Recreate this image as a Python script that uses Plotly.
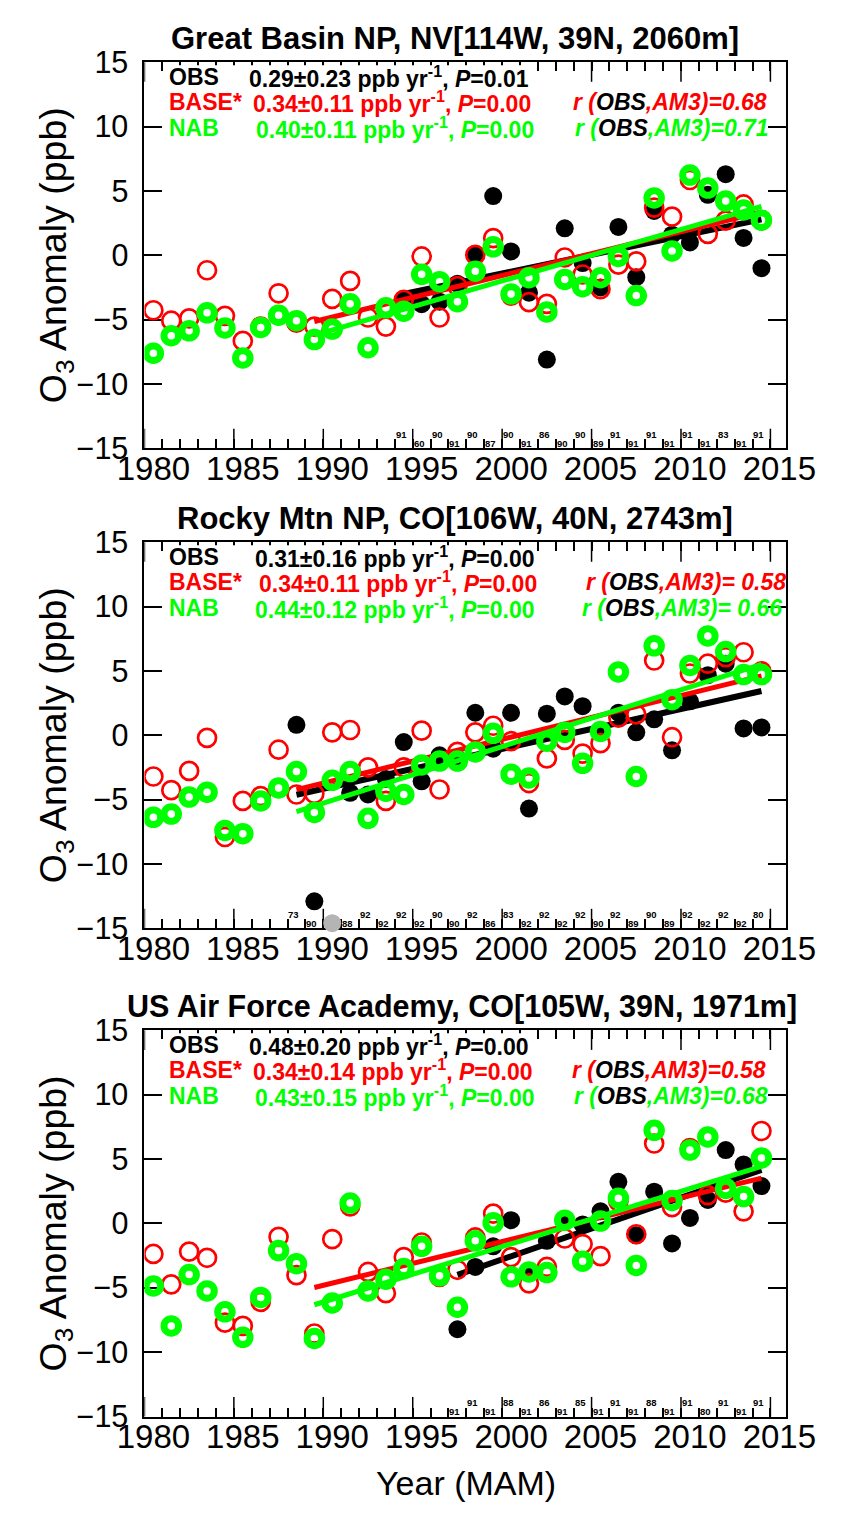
import numpy as np
import plotly.graph_objects as go

# ---------------------------------------------------------------- data
years = list(range(1980, 2015))
label_years = [1980, 1985, 1990, 1995, 2000, 2005, 2010, 2015]
y_ticks = [-15, -10, -5, 0, 5, 10, 15]

# Great Basin NP, NV
gb_title = "Great Basin NP, NV[114W, 39N, 2060m]"
gb_obs_years = list(range(1994, 2015))
gb_obs = [-3.4, -3.8, -3.6, -2.2, 0.0, 4.6, 0.3, -2.9, -8.1, 2.1, -0.6,
          -2.5, 2.2, -1.7, 3.45, 1.6, 1.0, 4.7, 6.3, 1.35, -1.0]
gb_base = [-4.27, -5.08, -4.9, -1.16, -4.7, -6.65, -5.54, -2.95, -5.23, -5.54,
           -3.38, -1.99, -4.83, -5.54, -3.46, -0.09, -4.83, -2.4, 0.03, 1.34,
           -3.13, -3.64, -3.77, -0.17, -1.49, -2.63, -0.73, -0.47, 3.7, 3.0,
           5.85, 1.67, 2.69, 3.95, 2.73]
gb_nab = [-7.61, -6.25, -5.87, -4.47, -5.64, -7.97, -5.61, -4.65, -5.08, -6.55,
          -5.73, -3.77, -7.18, -4.08, -4.34, -1.48, -2.05, -3.6, -1.23, 0.66,
          -3.0, -1.74, -4.4, -1.87, -2.44, -1.74, -0.09, -3.13, 4.46, 0.34,
          6.23, 5.22, 4.21, 3.52, 2.73]
gb_counts = [91, 60, 90, 91, 90, 87, 90, 91, 86, 90, 90, 89, 91, 91, 91, 91,
             91, 91, 83, 91, 91]
gb_trend = [0.29, 0.34, 0.40]          # OBS, BASE*, NAB (ppb/yr)
gb_trend_err = [0.23, 0.11, 0.11]
gb_p = [0.01, 0.00, 0.00]
gb_r = [0.68, 0.71]                    # BASE*, NAB vs OBS
gb_fit_start = [1994, 1989, 1989]

# Rocky Mtn NP, CO
rm_title = "Rocky Mtn NP, CO[106W, 40N, 2743m]"
rm_obs_years = list(range(1988, 2015))
rm_obs = [0.81, -12.9, None, -4.47, -4.6, -3.4, -0.53, -3.58, -1.55, -1.8,
          1.75, -1.04, 1.75, -5.69, 1.68, 3.02, 2.26, 0.3, 1.75, 0.23, 1.24,
          -1.17, 2.64, 4.67, 5.56, 0.53, 0.61]
rm_offscale_years = [1990]
rm_offscale_values = [-14.6]
rm_base = [-3.2, -4.26, -2.77, -0.2, -7.9, -5.1, -4.72, -1.12, -4.6, -4.54,
           0.23, 0.41, -2.49, -5.1, -2.49, 0.36, -4.21, -1.29, 0.23, 0.74,
           -0.46, -3.71, -1.8, -0.36, -1.42, -0.61, 1.37, 1.62, 5.81, -0.15,
           4.8, 5.56, 6.07, 6.45, 4.97]
rm_nab = [-6.37, -6.12, -4.8, -4.42, -7.39, -7.64, -5.1, -4.09, -2.82, -5.99,
          -3.5, -2.82, -6.45, -4.34, -4.6, -2.31, -2.0, -2.0, -1.29, 0.15,
          -3.02, -3.32, -0.46, 0.23, -2.18, 0.3, 4.92, -3.2, 6.95, 2.77,
          5.43, 7.72, 6.5, 4.72, 4.72]
rm_counts = [73, 90, None, 88, 92, 92, 92, 92, 90, 90, 92, 86, 83, 92, 92, 92,
             92, 90, 92, 89, 90, 89, 92, 92, 92, 92, 80]
rm_trend = [0.31, 0.34, 0.44]
rm_trend_err = [0.16, 0.11, 0.12]
rm_p = [0.00, 0.00, 0.00]
rm_r = [0.58, 0.66]
rm_fit_start = [1988, 1988, 1988]

# US Air Force Academy, CO
af_title = "US Air Force Academy, CO[105W, 39N, 1971m]"
af_obs_years = list(range(1997, 2015))
af_obs = [-8.22, -3.38, -1.78, 0.25, -3.77, -1.35, 0.25, -0.08, 0.94, 3.23,
          -0.92, 2.47, -1.55, 0.43, 1.83, 5.7, 4.58, 2.9]
af_base = [-2.37, -4.73, -2.19, -2.67, -7.71, -7.96, -6.1, -1.04, -4.02, -8.55,
           -1.22, 1.32, -3.77, -5.42, -2.62, -1.48, -4.15, -3.6, -1.09, 0.76,
           -2.62, -4.66, -3.38, -1.17, -1.6, -2.54, 1.7, -0.84, 6.21, 1.27,
           5.85, 2.2, 2.39, 0.94, 7.18]
af_nab = [-4.86, -7.96, -3.97, -5.24, -6.87, -8.85, -5.75, -2.11, -3.13, -8.93,
          -6.18, 1.58, -5.24, -4.33, -3.51, -1.78, -4.07, -6.51, -1.35, 0.05,
          -4.15, -3.77, -3.82, 0.25, -2.93, 0.18, 1.96, -3.26, 7.23, 1.78,
          5.7, 6.72, 2.72, 2.09, 5.09]
af_counts = [91, 91, 91, 88, 91, 86, 91, 85, 91, 91, 91, 88, 91, 91, 80, 91,
             91, 91]
af_trend = [0.48, 0.34, 0.43]
af_trend_err = [0.20, 0.14, 0.15]
af_p = [0.00, 0.00, 0.00]
af_r = [0.58, 0.68]
af_fit_start = [1997, 1989, 1989]

series_names = ["OBS", "BASE*", "NAB"]

# ---------------------------------------------------------------- style
W, H = 848, 1522
FONT = "Liberation Sans, Arial, sans-serif"
RED, GREEN, BLACK = "#ff0000", "#00ff00", "#000000"
SERIES_COLORS = [BLACK, RED, GREEN]
X_LEFT, X_RIGHT = 125, 814
PANEL_TOPS = [46.25, 537.2, 1036.5]
PANEL_H = 395.0
TITLE_X = [458, 458, 466]
TITLE_SIZE = [31, 31, 30.5]
VALUE_X = [[235, 239, 243], [242, 246, 242], [235, 239, 242]]
R_X = [[583, 585], [597, 592], [582, 584]]
R_SEP = ["=", "= ", "="]
MAJOR_TICK_LEN = 20


def fx(p):
    return p / W


def fy(p):
    return 1 - p / H


panels = [
    dict(title=gb_title, obs_years=gb_obs_years, obs=gb_obs, base=gb_base, nab=gb_nab,
         counts=gb_counts, trend=gb_trend, err=gb_trend_err, p=gb_p, r=gb_r,
         fit_start=gb_fit_start, off_years=[], off_vals=[]),
    dict(title=rm_title, obs_years=rm_obs_years, obs=rm_obs, base=rm_base, nab=rm_nab,
         counts=rm_counts, trend=rm_trend, err=rm_trend_err, p=rm_p, r=rm_r,
         fit_start=rm_fit_start, off_years=rm_offscale_years, off_vals=rm_offscale_values),
    dict(title=af_title, obs_years=af_obs_years, obs=af_obs, base=af_base, nab=af_nab,
         counts=af_counts, trend=af_trend, err=af_trend_err, p=af_p, r=af_r,
         fit_start=af_fit_start, off_years=[], off_vals=[]),
]


def trend_line(xs, vs, slope, start, end=2014):
    """Line with the stated slope through the mean of the fitted window."""
    xs = np.array(xs, dtype=float)
    vs = np.array([np.nan if v is None else v for v in vs], dtype=float)
    m = (xs >= start) & (xs <= end) & ~np.isnan(vs)
    xm, vm = xs[m].mean(), vs[m].mean()
    lx = np.array([start, end], dtype=float)
    return lx, vm + slope * (lx - xm)


def fmt_tick(v):
    return str(v).replace("-", "\u2212")


fig = go.Figure()
annotations = []
shapes = []

for i, pnl in enumerate(panels):
    k = "" if i == 0 else str(i + 1)
    xa, ya = "x" + k, "y" + k
    top = PANEL_TOPS[i]
    bottom = top + PANEL_H

    # OBS
    fig.add_trace(go.Scatter(x=pnl["obs_years"], y=pnl["obs"], mode="markers",
                             marker=dict(symbol="circle", size=18, color=BLACK),
                             xaxis=xa, yaxis=ya, showlegend=False))
    if pnl["off_years"]:
        fig.add_trace(go.Scatter(x=pnl["off_years"], y=pnl["off_vals"], mode="markers",
                                 marker=dict(symbol="circle", size=18, color="#b4b4b4"),
                                 cliponaxis=False, xaxis=xa, yaxis=ya, showlegend=False))
    lx, ly = trend_line(pnl["obs_years"], pnl["obs"], pnl["trend"][0], pnl["fit_start"][0])
    fig.add_trace(go.Scatter(x=lx, y=ly, mode="lines", line=dict(color=BLACK, width=6),
                             xaxis=xa, yaxis=ya, showlegend=False))
    # BASE*
    fig.add_trace(go.Scatter(x=years, y=pnl["base"], mode="markers",
                             marker=dict(symbol="circle-open", size=18, color=RED,
                                         line=dict(width=2.7)),
                             xaxis=xa, yaxis=ya, showlegend=False))
    lx, ly = trend_line(years, pnl["base"], pnl["trend"][1], pnl["fit_start"][1])
    fig.add_trace(go.Scatter(x=lx, y=ly, mode="lines", line=dict(color=RED, width=5),
                             xaxis=xa, yaxis=ya, showlegend=False))
    # NAB
    fig.add_trace(go.Scatter(x=years, y=pnl["nab"], mode="markers",
                             marker=dict(symbol="circle-open", size=14.5, color=GREEN,
                                         line=dict(width=7)),
                             xaxis=xa, yaxis=ya, showlegend=False))
    lx, ly = trend_line(years, pnl["nab"], pnl["trend"][2], pnl["fit_start"][2])
    fig.add_trace(go.Scatter(x=lx, y=ly, mode="lines", line=dict(color=GREEN, width=5),
                             xaxis=xa, yaxis=ya, showlegend=False))

    # axes: labels sit at the year centres, tick marks at the half-year bin edges
    dom_y = [fy(bottom), fy(top)]
    fig.update_layout(**{
        ("xaxis" + k): dict(
            domain=[fx(X_LEFT), fx(X_RIGHT)], anchor=ya,
            range=[1979.5, 2015.39],
            tickmode="array",
            tickvals=label_years,
            ticktext=[str(yr) for yr in label_years],
            ticks="inside", ticklen=0, tickwidth=1.5, tickcolor=BLACK,
            minor=dict(ticks="inside", ticklen=9, tickwidth=1.5, tickcolor=BLACK,
                       tickmode="linear", tick0=1979.5, dtick=1, showgrid=False),
            showline=True, linewidth=2, linecolor=BLACK, mirror="allticks",
            showgrid=False, zeroline=False, layer="below traces",
            tickfont=dict(family=FONT, size=33, color=BLACK),
            ticklabelstandoff=-10,
        ),
        ("yaxis" + k): dict(
            domain=dom_y, anchor=xa, range=[-15, 15],
            tickmode="array", tickvals=y_ticks, ticktext=[fmt_tick(v) for v in y_ticks],
            ticks="inside", ticklen=18, tickwidth=1.5, tickcolor=BLACK,
            showline=True, linewidth=2, linecolor=BLACK, mirror="allticks",
            showgrid=False, zeroline=False, layer="below traces",
            tickfont=dict(family=FONT, size=30.5, color=BLACK),
            ticklabelstandoff=8,
        ),
    })

    # long tick marks every five years (bottom and mirrored on top)
    for yr in label_years:
        for y0, y1 in ((bottom, bottom - MAJOR_TICK_LEN), (top, top + MAJOR_TICK_LEN)):
            shapes.append(dict(type="line", xref=xa, yref="paper", layer="below",
                               x0=yr - 0.5, x1=yr - 0.5, y0=fy(y0), y1=fy(y1),
                               line=dict(color=BLACK, width=1.5)))

    # panel title
    annotations.append(dict(x=fx(TITLE_X[i]), y=fy(top - 24), xref="paper", yref="paper",
                            text="<b>%s</b>" % pnl["title"], showarrow=False,
                            font=dict(family=FONT, size=TITLE_SIZE[i], color=BLACK),
                            xanchor="center", yanchor="middle"))
    # y-axis title
    annotations.append(dict(x=fx(30), y=fy(top + PANEL_H / 2), xref="paper", yref="paper",
                            text="O<sub>3</sub> Anomaly (ppb)", textangle=-90, showarrow=False,
                            font=dict(family=FONT, size=37.5, color=BLACK),
                            xanchor="center", yanchor="middle"))

    # white box behind the OBS statistics row
    shapes.append(dict(type="rect", xref="paper", yref="paper", layer="above",
                       x0=fx(147), x1=fx(537), y0=fy(top + 27), y1=fy(top + 3),
                       fillcolor="white", line=dict(width=0)))

    # statistics rows
    row_y = [top + 15, top + 41, top + 67]
    for s in range(3):
        col = SERIES_COLORS[s]
        annotations.append(dict(x=fx(149), y=fy(row_y[s]), xref="paper", yref="paper",
                                text="<b>%s</b>" % series_names[s], showarrow=False,
                                font=dict(family=FONT, size=23, color=col),
                                xanchor="left", yanchor="middle"))
        txt = "<b>%.2f±%.2f ppb yr<sup>-1</sup>, <i>P</i>=%.2f</b>" % (
            pnl["trend"][s], pnl["err"][s], pnl["p"][s])
        annotations.append(dict(x=fx(VALUE_X[i][s]), y=fy(row_y[s]), xref="paper",
                                yref="paper", text=txt, showarrow=False,
                                font=dict(family=FONT, size=23, color=col),
                                xanchor="left", yanchor="middle"))
        if s > 0:
            rtxt = ("<b><i>r (<span style='color:black'>OBS</span>,AM3)%s%.2f</i></b>"
                    % (R_SEP[i], pnl["r"][s - 1]))
            annotations.append(dict(x=fx(R_X[i][s - 1]), y=fy(row_y[s]), xref="paper",
                                    yref="paper", text=rtxt, showarrow=False,
                                    font=dict(family=FONT, size=23, color=col),
                                    xanchor="left", yanchor="middle"))

    # sample counts along the bottom axis
    for yr, n in zip(pnl["obs_years"], pnl["counts"]):
        if n is None:
            continue
        shift = 14.5 if yr % 2 == 0 else 5
        annotations.append(dict(x=yr, y=fy(bottom - shift), xref=xa, yref="paper",
                                xshift=-2.5, text="<b>%d</b>" % n, showarrow=False,
                                font=dict(family=FONT, size=9.5, color=BLACK),
                                xanchor="center", yanchor="middle"))

# x-axis title
annotations.append(dict(x=fx(470), y=fy(1500), xref="paper", yref="paper",
                        text="Year (MAM)", showarrow=False,
                        font=dict(family=FONT, size=34, color=BLACK),
                        xanchor="center", yanchor="middle"))

fig.update_layout(width=W, height=H, autosize=False,
                  margin=dict(l=0, r=0, t=0, b=0, pad=0),
                  paper_bgcolor="white", plot_bgcolor="white",
                  annotations=annotations, shapes=shapes, showlegend=False)

fig.write_html("out.html")
